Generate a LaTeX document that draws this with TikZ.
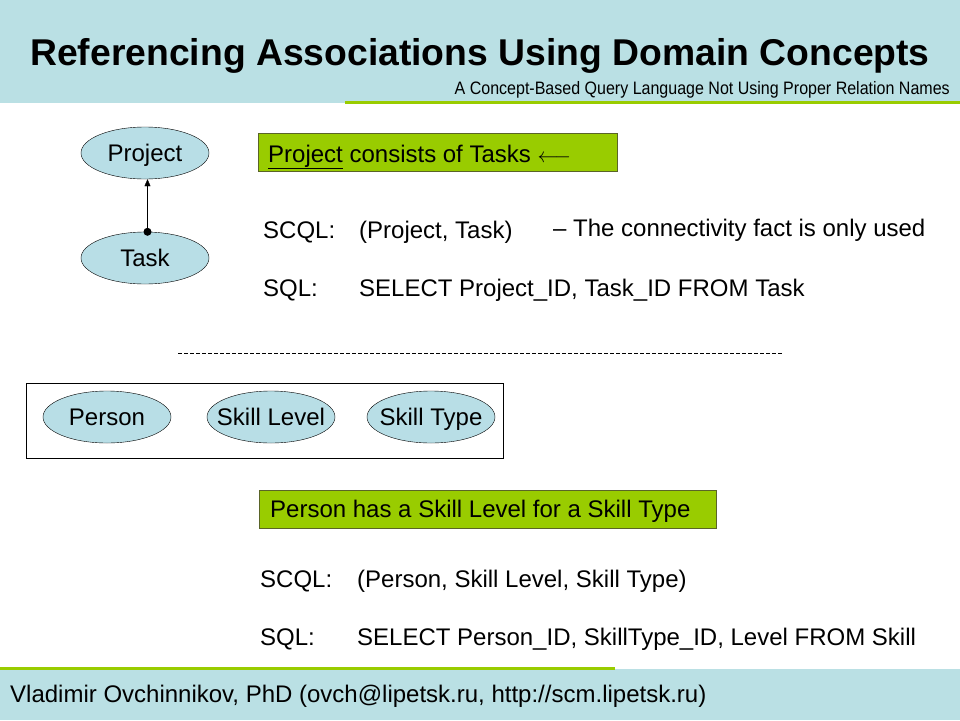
\documentclass[tikz,border=0pt]{standalone}
\usepackage{fontspec}
\setmainfont{Liberation Sans}
\usetikzlibrary{arrows.meta,shapes.geometric}
\definecolor{bandblue}{RGB}{186,224,228}
\definecolor{conceptblue}{RGB}{184,222,230}
\definecolor{factgreen}{RGB}{153,204,0}
\definecolor{factedge}{RGB}{90,100,40}
\begin{document}
\begin{tikzpicture}[x=1pt, y=-1pt,
    concept/.style={draw, ellipse, fill=conceptblue, minimum width=128pt, minimum height=52pt, inner xsep=-20pt, inner ysep=0pt, text height=18pt, text depth=1pt, font=\fontsize{24}{28}\selectfont},
    fact/.style={draw=factedge, fill=factgreen, anchor=north west, minimum height=38pt, inner sep=0pt},
    body/.style={anchor=base west, inner sep=0pt, font=\fontsize{24}{28}\selectfont}]
            \useasboundingbox (0,0) rectangle (960,720);
            % Header and footer bands
            \fill[bandblue] (0,0) rectangle (960,103);
            \fill[factgreen] (345,101) rectangle (960,104);
            \fill[bandblue] (0,669) rectangle (960,720);
            \fill[factgreen] (0,667) rectangle (615,670);
            \node[anchor=base, inner sep=0pt, font=\fontsize{37.3}{40}\selectfont\bfseries] (title) at (480,65) {Referencing Associations Using Domain Concepts};
            \node[anchor=base east, inner sep=0pt, font=\fontsize{18}{20}\selectfont] (subtitle) at (950,94) {\scalebox{0.89}[1]{A Concept-Based Query Language Not Using Proper Relation Names}};
            \node[anchor=base west, inner sep=0pt, font=\fontsize{24}{28}\selectfont] (footer) at (10,702) {Vladimir Ovchinnikov, PhD (ovch@lipetsk.ru, http://scm.lipetsk.ru)};
            % Project consists of Tasks
            \node[concept] (project) at (145,153) {Project};
            \node[concept] (task) at (145,258) {Task};
            \coordinate (link) at ([xshift=2.5pt]task.north);
            \draw[-{Triangle[length=7pt, width=6pt]}] (link) -- (link |- project.south);
            \fill (link) circle (4pt);
            \node[fact, minimum width=359pt] (fact1) at (258,133) {};
            \node[body] (fact1text) at (268,162) {\underline{Project} consists of Tasks {\fontsize{20}{24}\selectfont$\longleftarrow$}};
            \node[body] (scql1) at (263,238) {SCQL:};
            \node[body] (scql1q) at (359,238) {(Project, Task)};
            \node[body] (note1) at (553,236) {– The connectivity fact is only used};
            \node[body] (sql1) at (263,296) {SQL:};
            \node[body] (sql1q) at (359,296) {SELECT Project\_ID, Task\_ID FROM Task};
            \draw[dash pattern=on 4pt off 2pt] (178,353) -- (782,353);
            % Person has a Skill Level for a Skill Type
            \draw (26,383) rectangle (503,458);
            \node[concept] (person) at (107,417) {Person};
            \node[concept] (level) at (271,417) {Skill Level};
            \node[concept] (type) at (431,417) {Skill Type};
            \node[fact, minimum width=457pt] (fact2) at (259,490) {};
            \node[body] (fact2text) at (270,517) {Person has a Skill Level for a Skill Type};
            \node[body] (scql2) at (260,587) {SCQL:};
            \node[body] (scql2q) at (357,587) {(Person, Skill Level, Skill Type)};
            \node[body] (sql2) at (260,645) {SQL:};
            \node[body] (sql2q) at (357,645) {SELECT Person\_ID, SkillType\_ID, Level FROM Skill};
        \end{tikzpicture}
\end{document}
